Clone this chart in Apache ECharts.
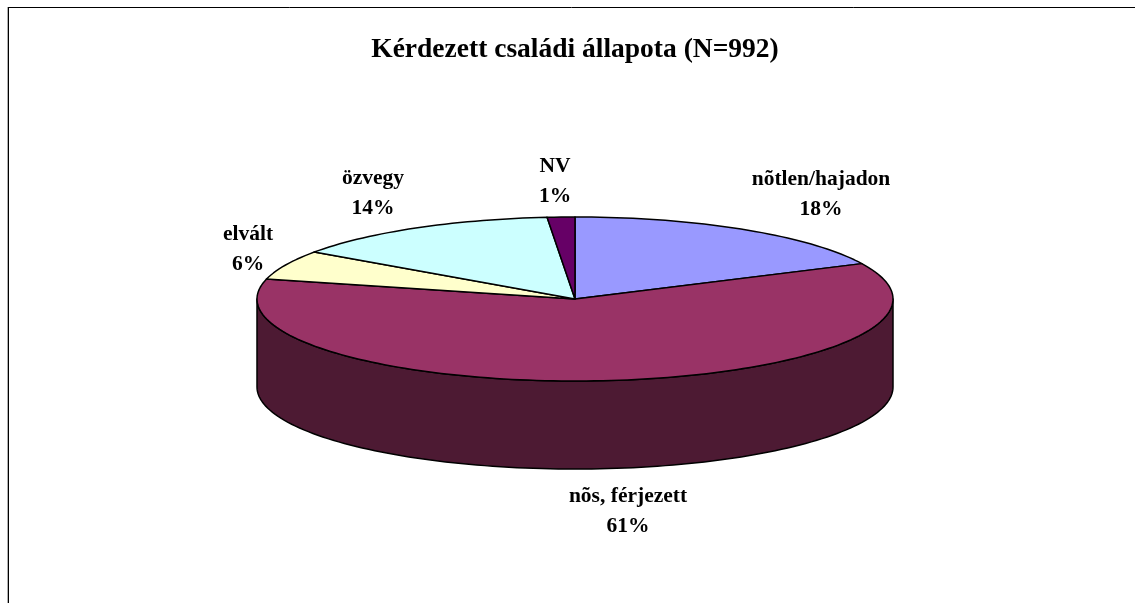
<!DOCTYPE html>
<html>
<head>
<meta charset="utf-8">
<style>html,body{margin:0;padding:0;background:#fff}#c{width:1135px;height:603px}</style>
<script src="https://cdn.jsdelivr.net/npm/echarts@6/dist/echarts.min.js"></script>
</head>
<body>
<div id="c"></div>
<script>
const chartTitle = 'Kérdezett családi állapota (N=992)';
const categories = ['nõtlen/hajadon', 'nõs, férjezett', 'elvált', 'özvegy', 'NV'];
const shares = [17.9, 61.0, 5.8, 13.9, 1.4];
const topColors = ['#9999ff', '#993366', '#ffffcc', '#ccffff', '#660066'];
const wallColors = ['#4d4d80', '#4d1a33', '#808066', '#668080', '#330033'];

const CX = 575, CY = 299, RX = 318, RY = 82, DEPTH = 88;
const labelAnchors = [[821, 194], [628, 511], [248, 249.5], [373, 193.5], [555, 181]];
const total = shares.reduce((a, b) => a + b, 0);

function pt(deg, dy) {
  const t = deg * Math.PI / 180;
  return [CX + RX * Math.sin(t), CY - RY * Math.cos(t) + (dy || 0)];
}
function arc(a, b, dy) {
  const n = Math.max(2, Math.ceil((b - a) / 1.5));
  const out = [];
  for (let k = 0; k <= n; k++) out.push(pt(a + (b - a) * k / n, dy));
  return out;
}
const outline = { stroke: '#000', lineWidth: 1.5, lineJoin: 'round' };

function renderSlice(params, api) {
  const i = api.value(0);
  const start = shares.slice(0, i).reduce((a, b) => a + b, 0) / total * 360;
  const end = start + api.value(1) / total * 360;
  const children = [];
  const wa = Math.max(start, 90), wb = Math.min(end, 270);
  if (wb > wa) {
    const top = arc(wa, wb, 0);
    const bottom = arc(wa, wb, DEPTH).reverse();
    children.push({
      type: 'polygon',
      shape: { points: top.concat(bottom) },
      style: Object.assign({ fill: wallColors[i] }, outline)
    });
  }
  children.push({
    type: 'polygon',
    shape: { points: [[CX, CY]].concat(arc(start, end, 0)) },
    style: Object.assign({ fill: topColors[i] }, outline)
  });
  children.push({
    type: 'text',
    style: {
      x: labelAnchors[i][0], y: labelAnchors[i][1],
      text: categories[i] + '\n' + Math.round(api.value(1)) + '%',
      fill: '#000', align: 'center', verticalAlign: 'middle',
      font: 'bold 21.5px "Liberation Serif"', lineHeight: 30
    }
  });
  return { type: 'group', children };
}

const chart = echarts.init(document.getElementById('c'), null, { renderer: 'canvas' });
chart.setOption({
  animation: false,
  backgroundColor: '#fff',
  title: {
    text: chartTitle, left: 570, top: 31, textAlign: 'center',
    textStyle: { fontFamily: 'Liberation Serif', fontWeight: 'bold', fontSize: 27.5, color: '#000' }
  },
  graphic: [
    { type: 'line', shape: { x1: 7.5, y1: 7, x2: 7.5, y2: 603 }, style: { stroke: '#b0b0b0', lineWidth: 1 } },
    { type: 'line', shape: { x1: 8.5, y1: 7, x2: 8.5, y2: 603 }, style: { stroke: '#000', lineWidth: 1 } },
    { type: 'line', shape: { x1: 8, y1: 7.5, x2: 1135, y2: 7.5 }, style: { stroke: '#000', lineWidth: 1 } }
  ],
  series: [{
    type: 'custom',
    coordinateSystem: 'none',
    renderItem: renderSlice,
    silent: true,
    data: shares.map((v, i) => [i, v])
  }]
});
</script>
</body>
</html>
